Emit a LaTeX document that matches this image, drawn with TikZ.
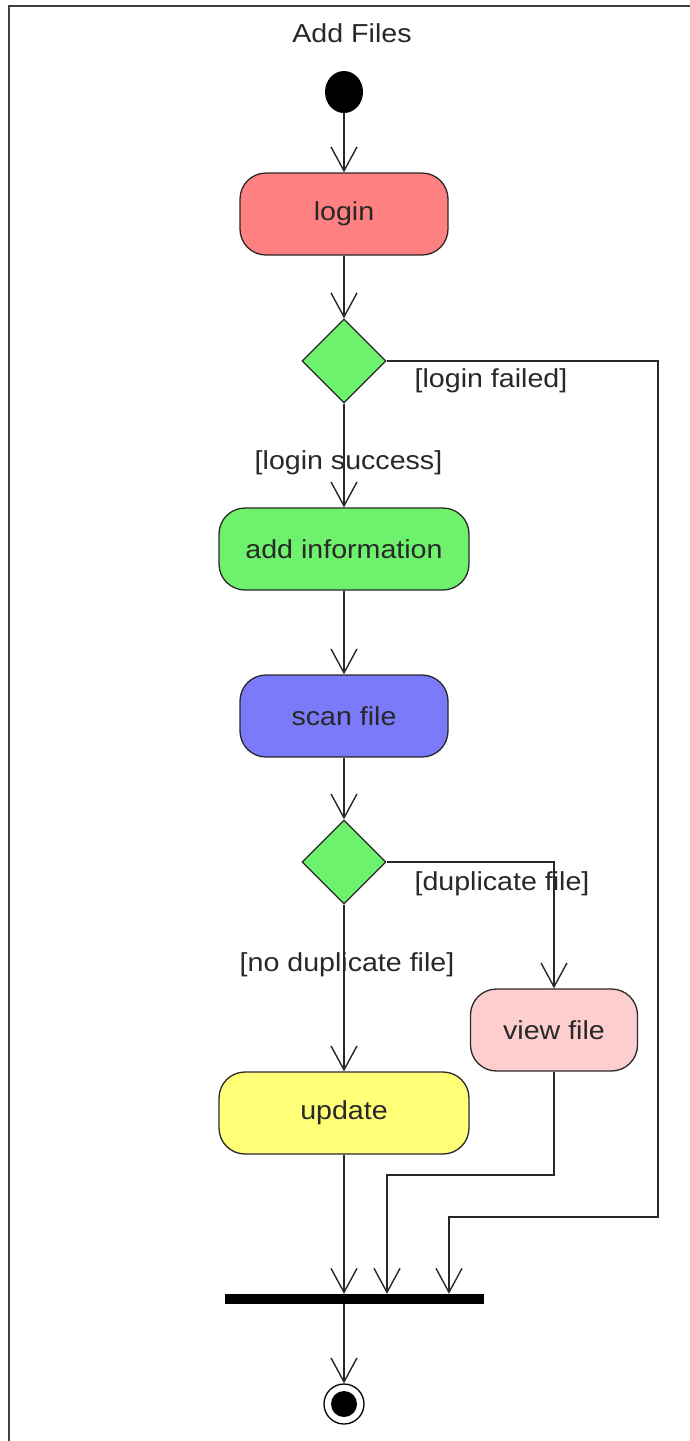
\documentclass[tikz,border=0pt]{standalone}
\usepackage{fontspec}
\setmainfont{Liberation Sans}[FakeStretch=1.1]
\usetikzlibrary{arrows.meta,shapes.geometric}

\definecolor{loginred}{RGB}{255,128,128}
\definecolor{actgreen}{RGB}{110,242,110}
\definecolor{scanblue}{RGB}{122,122,250}
\definecolor{viewpink}{RGB}{252,206,206}
\definecolor{updyellow}{RGB}{255,255,120}
\definecolor{ink}{RGB}{40,40,40}

\tikzset{
  lbl/.style={font=\fontsize{26}{30}\selectfont, text=ink, inner sep=0pt},
  action/.style={draw=ink, line width=1.3pt, rounded corners=26pt,
    minimum height=82pt, inner sep=0pt, lbl},
  decision/.style={diamond, draw=ink, line width=1.3pt, fill=actgreen,
    minimum width=84pt, minimum height=84pt, inner sep=0pt},
  flow/.style={draw=ink, line width=1.4pt,
    -{Straight Barb[length=24pt,width=26pt,line width=1.4pt]}},
}

\begin{document}
\begin{tikzpicture}[x=1pt,y=-1pt]
\useasboundingbox (0,0) rectangle (690,1441);
\fill[white] (0,0) rectangle (690,1441);

% frame of the activity
\draw[line width=1.5pt, black!75] (9,1441) -- (9,6) -- (690,6);
\node[lbl] (title) at (352,33) {Add Files};

% start and end
\node[ellipse, fill=black, minimum width=38pt, minimum height=42pt, inner sep=0pt] (start) at (344,92) {};
\node[circle, draw=black, line width=1.3pt, minimum size=40pt, inner sep=0pt] (final) at (344,1404) {};
\fill[black] (final.center) circle (13pt);

% actions
\node[action, fill=loginred, minimum width=208pt] (login) at (344,214) {login};
\node[decision] (d1) at (344,361) {};
\node[action, fill=actgreen, minimum width=250pt] (addinfo) at (344,549) {add information};
\node[action, fill=scanblue, minimum width=208pt] (scan) at (344,716) {scan file};
\node[decision] (d2) at (344,862) {};
\node[action, fill=viewpink, minimum width=167pt] (view) at (554,1030) {view file};
\node[action, fill=updyellow, minimum width=250pt] (update) at (344,1113) {update};

% join bar
\node[fill=black, minimum width=259pt, minimum height=10pt, inner sep=0pt] (bar) at (354.5,1299) {};

% guard labels
\node[lbl] (lfail) at (491,381) {[login failed]};
\node[lbl] (lsucc) at (348.5,463) {[login success]};
\node[lbl] (ldup) at (502,884) {[duplicate file]};
\node[lbl] (lnodup) at (347,965) {[no duplicate file]};

% bends of the routed flows
\coordinate (fr1) at (658,1217);
\coordinate (fr2) at (449,1217);
\coordinate (vb1) at (387,1175);

% flows
\draw[flow] (start) -- (login);
\draw[flow] (login) -- (d1);
\draw[flow] (d1) -- (addinfo);
\draw[flow] (addinfo) -- (scan);
\draw[flow] (scan) -- (d2);
\draw[flow] (d2) -- (update);
\draw[flow] (d2.east) -| (view.north);
\draw[flow] (update.south) -- (update.south |- bar.north);
\draw[flow] (view.south) |- (vb1) -- (vb1 |- bar.north);
\draw[flow] (d1.east) -| (fr1) -- (fr2) -- (fr2 |- bar.north);
\draw[flow] (update.south |- bar.south) -- (final);
\end{tikzpicture}
\end{document}
